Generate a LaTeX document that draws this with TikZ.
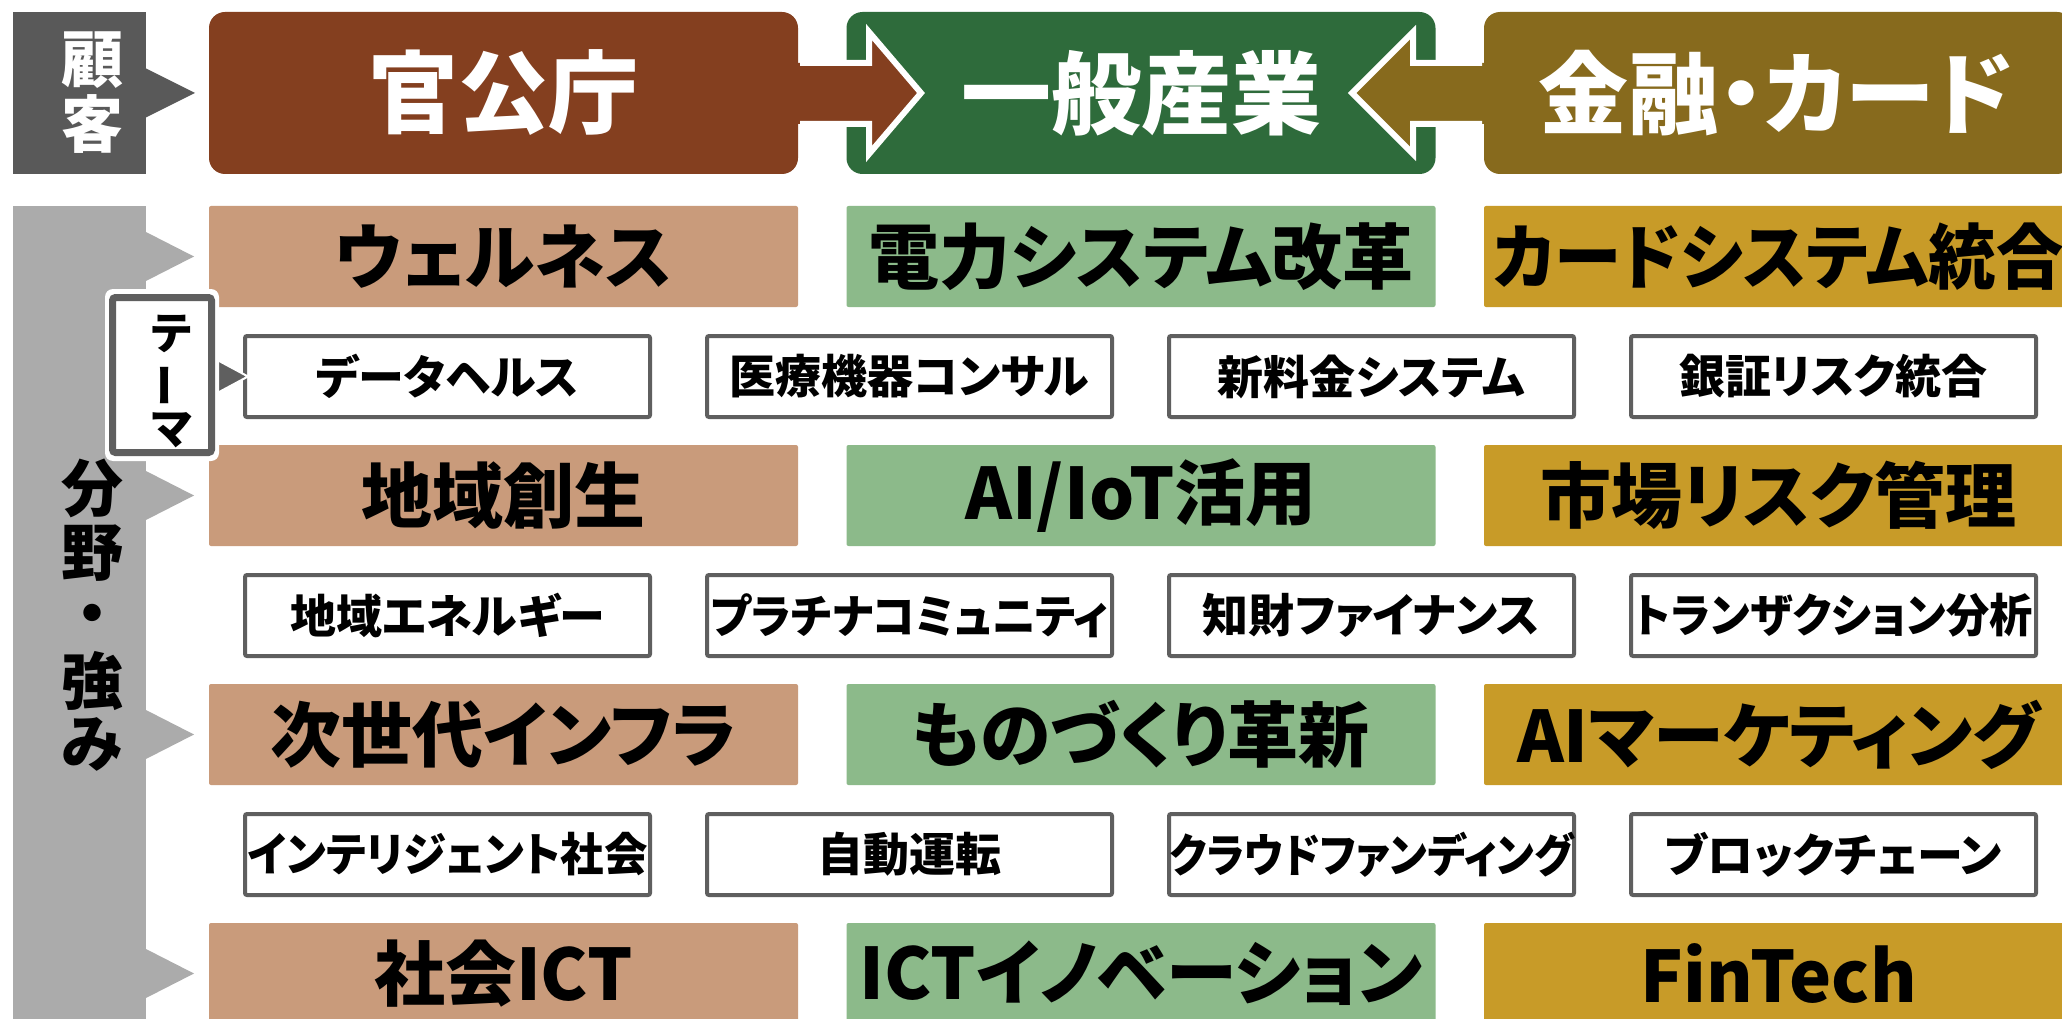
\documentclass[tikz,border=0pt]{standalone}
\usepackage{fontspec}
\usepackage{graphicx}
\newfontfamily\jp{Noto Sans CJK JP}[RawFeature=+palt]
\newfontfamily\jpn{Noto Sans CJK JP}
\definecolor{kokyakuC}{HTML}{595959}
\definecolor{bunyaC}{HTML}{ABABAB}
\definecolor{govC}{HTML}{843F1F}
\definecolor{indC}{HTML}{2E6B3B}
\definecolor{finC}{HTML}{876A1D}
\definecolor{govL}{HTML}{C99B7B}
\definecolor{indL}{HTML}{8CBA8A}
\definecolor{finL}{HTML}{C89B28}
\definecolor{thB}{HTML}{5F5F5F}
\newsavebox\fitbox
\newcommand\fitw[2]{\sbox\fitbox{#2}\ifdim\wd\fitbox>#1\relax\resizebox{#1}{\ht\fitbox}{\usebox\fitbox}\else\usebox\fitbox\fi}
\tikzset{
  hdrbox/.style={minimum width=589pt, minimum height=162pt, inner sep=0pt, rounded corners=16pt, text=white, font=\jp\bfseries\fontsize{90}{96}\selectfont},
  rowbox/.style={minimum width=589pt, minimum height=101pt, inner sep=0pt, rounded corners=2pt, text=black, font=\jp\bfseries\fontsize{71}{76}\selectfont},
  thbox/.style={draw=thB, line width=4pt, fill=white, minimum width=405pt, minimum height=81pt, inner sep=0pt, rounded corners=2pt, text=black, font=\jp\bfseries\fontsize{46}{50}\selectfont},
  vchar/.style={inner sep=0pt, font=\jp\bfseries\fontsize{62}{66}\selectfont},
  tchar/.style={inner sep=0pt, text=black, font=\jpn\bfseries\fontsize{44}{48}\selectfont},
}
\begin{document}
\begin{tikzpicture}[x=1pt,y=-1pt]
\useasboundingbox (0,0) rectangle (2062,1019);
\fill[white] (0,0) rectangle (2062,1019);

% ---- customer label
\fill[kokyakuC] (13,12) rectangle (146,174);
\fill[kokyakuC] (145,68) -- (195,93) -- (145,118) -- cycle;
\node[vchar, text=white] (k1) at (92,60) {顧};
\node[vchar, text=white] (k2) at (92,124) {客};

% ---- header boxes
\node[hdrbox, fill=govC] (gov) at (503.5,93) {};
\node[hdrbox, fill=indC] (ind) at (1141,93) {};
\node[hdrbox, fill=finC] (fin) at (1778.5,93) {};

% ---- block arrows
\fill[govC] (790,63) -- (869,63) -- (869,32) -- (921,93) -- (869,154) -- (869,124) -- (790,124) -- cycle;
\draw[white, line width=6pt, line join=miter] (800,63) -- (869,63) -- (869,32) -- (921,93) -- (869,154) -- (869,124) -- (800,124);
\fill[finC] (1494,63) -- (1413,63) -- (1413,32) -- (1352,93) -- (1413,154) -- (1413,124) -- (1494,124) -- cycle;
\draw[white, line width=6pt, line join=miter] (1482,63) -- (1413,63) -- (1413,32) -- (1352,93) -- (1413,154) -- (1413,124) -- (1482,124);

\node[hdrbox, fill=none] (govT) at (503.5,93) {官公庁};
\node[hdrbox, fill=none] (indT) at (1141,93) {一般産業};
\node[hdrbox, fill=none] (finT) at (1776,93) {金融・カード};

% ---- field bar
\fill[bunyaC] (13,206) rectangle (146,1030);
\foreach \c in {256.5,495.5,734.5,973.5}{
  \fill[bunyaC] (145,\c-25) -- (194,\c) -- (145,\c+25) -- cycle;
}
\node[vchar] (b1) at (92,488) {分};
\node[vchar] (b2) at (92,553) {野};
\node[vchar] (b3) at (92,620) {・};
\node[vchar] (b4) at (92,681) {強};
\node[vchar] (b5) at (92,744) {み};

% ---- main rows
\node[rowbox, fill=govL] (r1a) at (503.5,256.5) {\fitw{575pt}{ウェルネス}};
\node[rowbox, fill=indL] (r1b) at (1141,256.5) {\fitw{575pt}{電力システム改革}};
\node[rowbox, fill=finL] (r1c) at (1778.5,256.5) {\fitw{570pt}{カードシステム統合}};

\node[rowbox, fill=govL] (r3a) at (503.5,495.5) {\fitw{575pt}{地域創生}};
\node[rowbox, fill=indL] (r3b) at (1141,495.5) {\fitw{575pt}{AI/IoT活用}};
\node[rowbox, fill=finL] (r3c) at (1778.5,495.5) {\fitw{570pt}{市場リスク管理}};

\node[rowbox, fill=govL] (r5a) at (503.5,734.5) {\fitw{575pt}{次世代インフラ}};
\node[rowbox, fill=indL] (r5b) at (1141,734.5) {\fitw{575pt}{ものづくり革新}};
\node[rowbox, fill=finL] (r5c) at (1778.5,734.5) {\fitw{570pt}{AIマーケティング}};

\node[rowbox, fill=govL] (r7a) at (503.5,973.5) {\fitw{575pt}{社会ICT}};
\node[rowbox, fill=indL] (r7b) at (1141,973.5) {\fitw{575pt}{ICTイノベーション}};
\node[rowbox, fill=finL] (r7c) at (1778.5,973.5) {\fitw{570pt}{FinTech}};

% ---- theme rows
\node[thbox] (t2a) at (447.5,376.5) {\fitw{398pt}{データヘルス}};
\node[thbox] (t2b) at (909.5,376.5) {\fitw{398pt}{医療機器コンサル}};
\node[thbox] (t2c) at (1371.5,376.5) {\fitw{398pt}{新料金システム}};
\node[thbox] (t2d) at (1833.5,376.5) {\fitw{398pt}{銀証リスク統合}};

\node[thbox] (t4a) at (447.5,615.5) {\fitw{398pt}{地域エネルギー}};
\node[thbox] (t4b) at (909.5,615.5) {\fitw{398pt}{プラチナコミュニティ}};
\node[thbox] (t4c) at (1371.5,615.5) {\fitw{398pt}{知財ファイナンス}};
\node[thbox] (t4d) at (1833.5,615.5) {\fitw{398pt}{トランザクション分析}};

\node[thbox] (t6a) at (447.5,854.5) {\fitw{400pt}{インテリジェント社会}};
\node[thbox] (t6b) at (909.5,854.5) {\fitw{398pt}{自動運転}};
\node[thbox] (t6c) at (1371.5,854.5) {\fitw{404pt}{クラウドファンディング}};
\node[thbox] (t6d) at (1833.5,854.5) {\fitw{398pt}{ブロックチェーン}};

% ---- theme label
\filldraw[fill=thB, draw=white, line width=2pt, line join=miter] (208,355) -- (248,376.5) -- (208,398) -- cycle;
\fill[white, rounded corners=8pt] (105,289) rectangle (219,461);
\draw[thB, line width=7pt, rounded corners=3pt, fill=white] (112.5,297.5) rectangle (211.5,452.5);
\node[tchar] (th1) at (171,334) {テ};
\node[tchar, rotate=90] (th2) at (171,385) {ー};
\node[tchar] (th3) at (171,430) {マ};
\end{tikzpicture}
\end{document}
